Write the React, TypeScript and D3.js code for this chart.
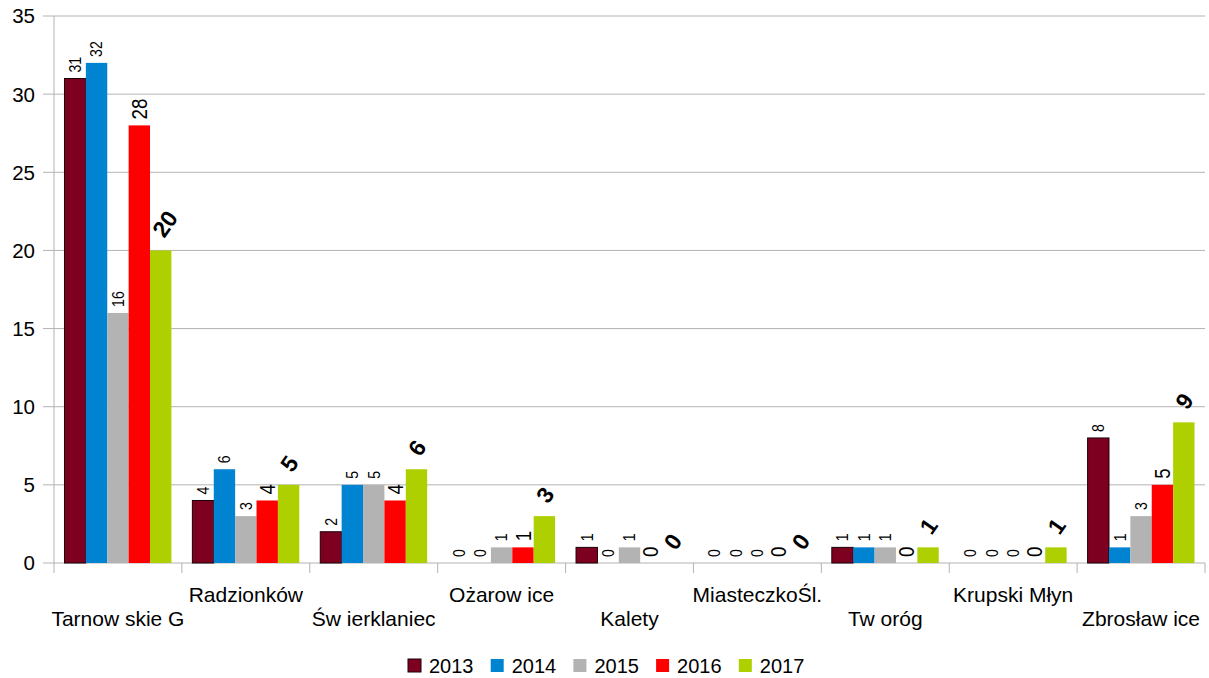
import React from "react";
import * as d3 from "d3";

const categories = [
  "Tarnow skie G",
  "Radzionków",
  "Św ierklaniec",
  "Ożarow ice",
  "Kalety",
  "MiasteczkoŚl.",
  "Tw oróg",
  "Krupski Młyn",
  "Zbrosław ice",
];
const years = ["2013", "2014", "2015", "2016", "2017"];
const v2013 = [31, 4, 2, 0, 1, 0, 1, 0, 8];
const v2014 = [32, 6, 5, 0, 0, 0, 1, 0, 1];
const v2015 = [16, 3, 5, 1, 1, 0, 1, 0, 3];
const v2016 = [28, 4, 4, 1, 0, 0, 0, 0, 5];
const v2017 = [20, 5, 6, 3, 0, 0, 1, 1, 9];
const yTicks = [0, 5, 10, 15, 20, 25, 30, 35];
const colors = ["#7e0021", "#0084d1", "#b3b3b3", "#ff0000", "#aecf00"];

const series = [v2013, v2014, v2015, v2016, v2017];
const FONT = "'Liberation Sans', Arial, sans-serif";

export default function App() {
  const W = 1209, H = 678;
  const left = 54, right = 1205, top = 16, bottom = 563;
  const x = d3.scaleBand<string>().domain(categories).range([left, right]).padding(0);
  const bw = x.bandwidth();
  const pad = bw * 0.082;
  const xs = d3.scaleBand<string>().domain(years).range([pad, bw - pad]).padding(0);
  const y = d3.scaleLinear().domain([0, 35]).range([bottom, top]);
  const boundaries = d3.range(categories.length + 1).map((i) => left + i * bw);

  return (
    <svg width={W} height={H} style={{ position: "absolute", left: 0, top: 0, background: "#fff" }} fontFamily={FONT}>
      {yTicks.map((t) => (
        <g key={t}>
          <line x1={43} x2={right} y1={y(t)} y2={y(t)} stroke="#b3b3b3" strokeWidth={1} />
          <text x={35} y={y(t)} dy="0.36em" textAnchor="end" fontSize={20.5} fill="#000">{t}</text>
        </g>
      ))}
      <line x1={left} x2={left} y1={top} y2={bottom} stroke="#b3b3b3" />
      {boundaries.map((b, i) => (
        <line key={i} x1={b} x2={b} y1={bottom} y2={bottom + 10} stroke="#b3b3b3" />
      ))}
      {categories.map((c, ci) =>
        series.map((s, si) => {
          const v = s[ci];
          const bx = (x(c) as number) + (xs(years[si]) as number);
          const w = xs.bandwidth();
          const yt = y(v);
          return (
            <g key={c + si}>
              {v > 0 && (
                <rect x={bx} y={yt} width={w} height={bottom - yt} fill={colors[si]}
                  stroke={si === 0 ? "#1a0008" : "none"} strokeWidth={si === 0 ? 1 : 0} />
              )}
            </g>
          );
        })
      )}
      {categories.map((c, ci) =>
        series.map((s, si) => {
          const v = s[ci];
          const bx = (x(c) as number) + (xs(years[si]) as number);
          const cx = bx + xs.bandwidth() / 2;
          const yt = y(v);
          if (si < 3) {
            return (
              <text key={"l" + c + si} transform={`translate(${cx},${yt - 6}) rotate(-90) scale(0.88,1)`}
                dominantBaseline="central" fontSize={16} fill="#000">{v}</text>
            );
          } else if (si === 3) {
            return (
              <text key={"l" + c + si} transform={`translate(${cx},${yt - 6}) rotate(-90) scale(0.85,1)`}
                dominantBaseline="central" fontSize={22} fill="#000">{v}</text>
            );
          }
          return (
            <text key={"l" + c + si} transform={`translate(${cx - 3},${yt - 16}) rotate(-55)`}
              dominantBaseline="central" fontSize={23} fontWeight="bold" fill="#000">{v}</text>
          );
        })
      )}
      {categories.map((c, ci) => (
        <text key={"c" + c} x={(x(c) as number) + bw / 2} y={ci % 2 === 0 ? 626 : 602}
          textAnchor="middle" fontSize={21} fill="#000">{c}</text>
      ))}
      {years.map((yr, i) => {
        const lx = 408 + i * 82.7;
        return (
          <g key={yr}>
            <rect x={lx} y={659} width={13} height={13} fill={colors[i]}
              stroke={i === 0 ? "#1a0008" : "none"} />
            <text x={lx + 21} y={673} fontSize={20} fill="#000">{yr}</text>
          </g>
        );
      })}
    </svg>
  );
}
